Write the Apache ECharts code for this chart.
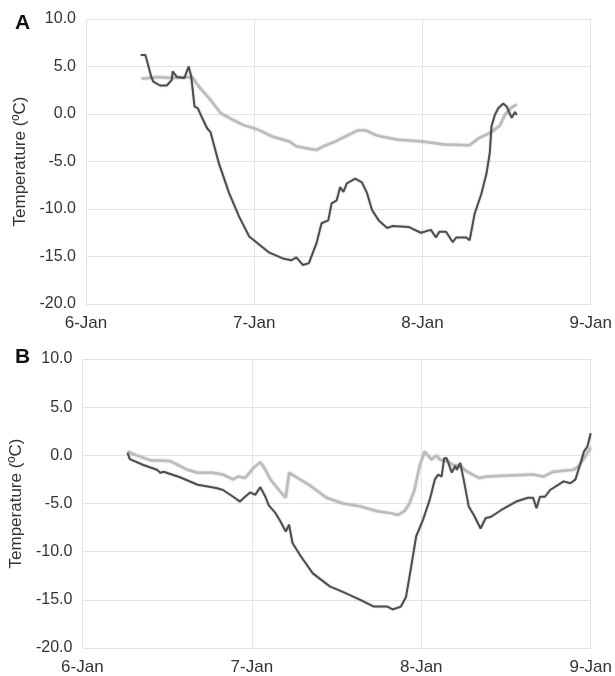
<!DOCTYPE html>
<html>
<head>
<meta charset="utf-8">
<script src="https://cdn.jsdelivr.net/npm/echarts@6/dist/echarts.min.js"></script>
<style>html,body{margin:0;padding:0;background:#fff}#c{width:615px;height:676px}</style>
</head>
<body>
<div id="c"></div>
<script>
// x = days after 6-Jan 00:00
const xLabels = ['6-Jan', '7-Jan', '8-Jan', '9-Jan'];
const yName = 'Temperature (ºC)';
const panelLetters = ['A', 'B'];

const darkA = [[0.325,6.2],[0.353,6.2],[0.39,3.8],[0.40,3.4],[0.44,3.0],[0.48,3.0],[0.51,3.6],[0.515,4.5],[0.54,3.9],[0.585,3.8],[0.61,5.0],[0.625,4.0],[0.645,0.8],[0.665,0.6],[0.69,-0.4],[0.72,-1.5],[0.74,-1.9],[0.79,-5.2],[0.85,-8.3],[0.91,-10.8],[0.97,-12.9],[1.09,-14.6],[1.17,-15.2],[1.22,-15.4],[1.25,-15.1],[1.29,-15.9],[1.325,-15.7],[1.37,-13.6],[1.40,-11.5],[1.44,-11.2],[1.46,-9.4],[1.49,-9.1],[1.51,-7.7],[1.53,-8.2],[1.55,-7.3],[1.60,-6.8],[1.64,-7.2],[1.67,-8.3],[1.70,-10.1],[1.74,-11.2],[1.79,-12.0],[1.82,-11.8],[1.92,-11.9],[1.99,-12.5],[2.05,-12.2],[2.08,-13.0],[2.10,-12.4],[2.14,-12.4],[2.18,-13.5],[2.20,-13.0],[2.26,-13.0],[2.28,-13.3],[2.31,-10.5],[2.35,-8.4],[2.38,-6.3],[2.40,-4.1],[2.41,-1.3],[2.43,-0.1],[2.45,0.6],[2.48,1.1],[2.50,0.8],[2.53,-0.4],[2.55,0.2],[2.56,-0.1]];
const lightA = [[0.33,3.7],[0.42,3.9],[0.515,3.8],[0.63,3.9],[0.675,2.8],[0.73,1.7],[0.80,0.1],[0.87,-0.6],[0.94,-1.2],[0.98,-1.4],[1.03,-1.7],[1.11,-2.4],[1.21,-2.9],[1.25,-3.4],[1.31,-3.6],[1.37,-3.8],[1.41,-3.4],[1.48,-2.9],[1.56,-2.2],[1.62,-1.7],[1.66,-1.7],[1.72,-2.2],[1.76,-2.4],[1.86,-2.7],[2.0,-2.9],[2.13,-3.2],[2.28,-3.3],[2.33,-2.6],[2.41,-1.9],[2.46,-1.2],[2.49,-0.1],[2.53,0.7],[2.56,1.0]];
const darkB = [[0.267,0.25],[0.28,-0.4],[0.36,-1.0],[0.44,-1.5],[0.46,-1.8],[0.48,-1.7],[0.58,-2.3],[0.68,-3.05],[0.79,-3.4],[0.83,-3.6],[0.89,-4.3],[0.93,-4.8],[0.96,-4.3],[0.99,-3.85],[1.02,-4.1],[1.05,-3.3],[1.08,-4.3],[1.10,-5.2],[1.14,-6.0],[1.17,-6.9],[1.20,-7.9],[1.22,-7.2],[1.24,-9.1],[1.29,-10.5],[1.36,-12.25],[1.46,-13.6],[1.54,-14.2],[1.64,-15.0],[1.72,-15.7],[1.80,-15.7],[1.83,-16.0],[1.88,-15.7],[1.91,-14.7],[1.94,-11.6],[1.97,-8.4],[2.01,-6.7],[2.05,-4.6],[2.08,-2.5],[2.10,-2.0],[2.12,-2.2],[2.135,-0.3],[2.15,-0.3],[2.18,-1.8],[2.20,-1.1],[2.21,-1.5],[2.23,-0.8],[2.25,-2.5],[2.28,-5.3],[2.31,-6.2],[2.35,-7.6],[2.38,-6.5],[2.41,-6.4],[2.47,-5.7],[2.56,-4.8],[2.63,-4.4],[2.66,-4.4],[2.68,-5.5],[2.70,-4.3],[2.73,-4.3],[2.76,-3.6],[2.84,-2.7],[2.88,-2.9],[2.91,-2.5],[2.94,-0.8],[2.96,0.4],[2.98,0.9],[3.0,2.3]];
const lightB = [[0.267,0.4],[0.32,0.0],[0.40,-0.5],[0.52,-0.6],[0.62,-1.5],[0.68,-1.8],[0.77,-1.8],[0.83,-2.0],[0.89,-2.5],[0.92,-2.2],[0.96,-2.35],[1.01,-1.3],[1.05,-0.7],[1.08,-1.5],[1.11,-2.5],[1.16,-3.6],[1.20,-4.4],[1.22,-1.8],[1.27,-2.35],[1.35,-3.2],[1.44,-4.4],[1.54,-5.0],[1.64,-5.3],[1.74,-5.8],[1.82,-6.0],[1.86,-6.2],[1.90,-5.8],[1.93,-5.0],[1.96,-3.6],[1.99,-1.1],[2.02,0.4],[2.03,0.25],[2.06,-0.45],[2.09,0.0],[2.11,-0.45],[2.15,-0.6],[2.19,-1.0],[2.23,-1.1],[2.27,-1.7],[2.34,-2.35],[2.39,-2.2],[2.52,-2.1],[2.66,-2.0],[2.72,-2.2],[2.78,-1.7],[2.90,-1.5],[2.93,-1.1],[2.96,-0.3],[3.0,0.8]];

const gridColor = '#e4e4e4';
const textColor = '#333333';
const font = 'Liberation Sans, Arial, Helvetica, sans-serif';

function xAxis(i) {
  return {
    type: 'value', gridIndex: i, min: 0, max: 3, interval: 1,
    axisLine: { show: false }, axisTick: { show: false },
    splitLine: { show: true, lineStyle: { color: gridColor, width: 1 } },
    axisLabel: { color: textColor, fontSize: 17, fontFamily: font, margin: 11,
      formatter: v => xLabels[Math.round(v)] }
  };
}
function yAxis(i) {
  return {
    type: 'value', gridIndex: i, min: -20, max: 10, interval: 5,
    axisLine: { show: false }, axisTick: { show: false },
    splitLine: { show: true, lineStyle: { color: gridColor, width: 1 } },
    axisLabel: { color: textColor, fontSize: 16, fontFamily: font, margin: 10,
      formatter: v => v.toFixed(1) },
    name: yName, nameLocation: 'middle', nameGap: 54, nameRotate: 90,
    nameTextStyle: { color: textColor, fontSize: 17, fontFamily: font }
  };
}
function line(data, i, color, w) {
  return {
    type: 'line', xAxisIndex: i, yAxisIndex: i, data: data, showSymbol: false,
    smooth: false, animation: false,
    lineStyle: { color: color, width: w, shadowColor: 'rgba(0,0,0,0.25)', shadowBlur: 2 }
  };
}

const chart = echarts.init(document.getElementById('c'));
chart.setOption({
  animation: false,
  title: [
    { text: panelLetters[0], left: 10, top: 8, textStyle: { fontSize: 21, fontWeight: 'bold', color: '#111', fontFamily: font } },
    { text: panelLetters[1], left: 10, top: 342, textStyle: { fontSize: 21, fontWeight: 'bold', color: '#111', fontFamily: font } }
  ],
  grid: [
    { left: 86, right: 23, top: 19, height: 285 },
    { left: 82, right: 24, top: 359, height: 289 }
  ],
  xAxis: [xAxis(0), xAxis(1)],
  yAxis: [yAxis(0), yAxis(1)],
  series: [
    line(lightA, 0, '#bcbcbc', 2.5),
    line(darkA, 0, '#4d4d4d', 2),
    line(lightB, 1, '#bcbcbc', 2.5),
    line(darkB, 1, '#4d4d4d', 2)
  ]
});
</script>
</body>
</html>
